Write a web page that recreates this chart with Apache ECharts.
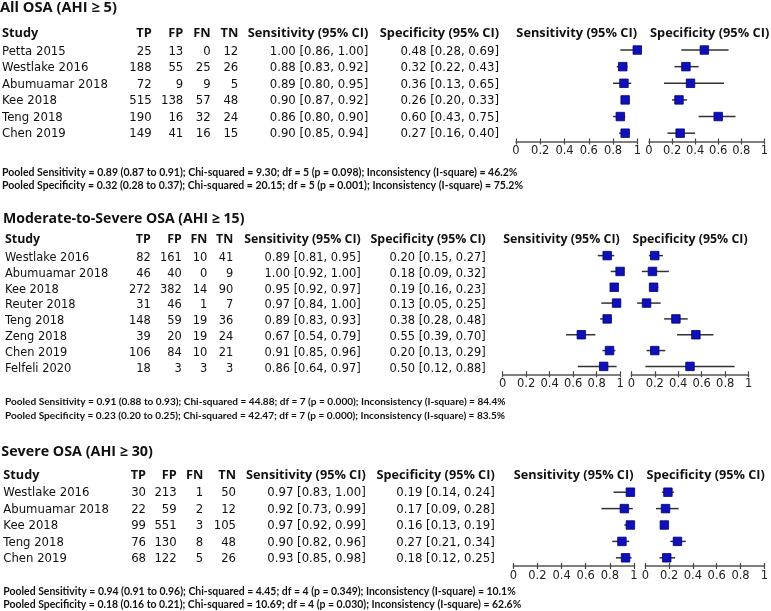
<!DOCTYPE html>
<html>
<head>
<meta charset="utf-8">
<script src="https://cdn.jsdelivr.net/npm/echarts@6/dist/echarts.min.js"></script>
<style>
  html, body { margin: 0; background: #fff; }
  #main { width: 771px; height: 611px; }
</style>
</head>
<body>
<div id="main"></div>
<script>
// ---- data ----
var titles = ['All OSA (AHI \u2265 5)', 'Moderate-to-Severe OSA (AHI \u2265 15)', 'Severe OSA (AHI \u2265 30)'];
var columns = ['Study', 'TP', 'FP', 'FN', 'TN', 'Sensitivity (95% CI)', 'Specificity (95% CI)'];
var ticks = [0, 0.2, 0.4, 0.6, 0.8, 1];

// All OSA
var allStudies = ['Petta 2015', 'Westlake 2016', 'Abumuamar 2018', 'Kee 2018', 'Teng 2018', 'Chen 2019'];
var allTP = [25, 188, 72, 515, 190, 149];
var allFP = [13, 55, 9, 138, 16, 41];
var allFN = [0, 25, 9, 57, 32, 16];
var allTN = [12, 26, 5, 48, 24, 15];
var allSens = [1.00, 0.88, 0.89, 0.90, 0.86, 0.90];
var allSensLo = [0.86, 0.83, 0.80, 0.87, 0.80, 0.85];
var allSensHi = [1.00, 0.92, 0.95, 0.92, 0.90, 0.94];
var allSpec = [0.48, 0.32, 0.36, 0.26, 0.60, 0.27];
var allSpecLo = [0.28, 0.22, 0.13, 0.20, 0.43, 0.16];
var allSpecHi = [0.69, 0.43, 0.65, 0.33, 0.75, 0.40];
var allPooled = [
  'Pooled Sensitivity = 0.89 (0.87 to 0.91); Chi-squared = 9.30; df = 5 (p = 0.098); Inconsistency (I-square) = 46.2%',
  'Pooled Specificity = 0.32 (0.28 to 0.37); Chi-squared = 20.15; df = 5 (p = 0.001); Inconsistency (I-square) = 75.2%'
];

// Moderate-to-severe OSA
var modStudies = ['Westlake 2016', 'Abumuamar 2018', 'Kee 2018', 'Reuter 2018', 'Teng 2018', 'Zeng 2018', 'Chen 2019', 'Felfeli 2020'];
var modTP = [82, 46, 272, 31, 148, 39, 106, 18];
var modFP = [161, 40, 382, 46, 59, 20, 84, 3];
var modFN = [10, 0, 14, 1, 19, 19, 10, 3];
var modTN = [41, 9, 90, 7, 36, 24, 21, 3];
var modSens = [0.89, 1.00, 0.95, 0.97, 0.89, 0.67, 0.91, 0.86];
var modSensLo = [0.81, 0.92, 0.92, 0.84, 0.83, 0.54, 0.85, 0.64];
var modSensHi = [0.95, 1.00, 0.97, 1.00, 0.93, 0.79, 0.96, 0.97];
var modSpec = [0.20, 0.18, 0.19, 0.13, 0.38, 0.55, 0.20, 0.50];
var modSpecLo = [0.15, 0.09, 0.16, 0.05, 0.28, 0.39, 0.13, 0.12];
var modSpecHi = [0.27, 0.32, 0.23, 0.25, 0.48, 0.70, 0.29, 0.88];
var modPooled = [
  'Pooled Sensitivity = 0.91 (0.88 to 0.93); Chi-squared = 44.88; df = 7 (p = 0.000); Inconsistency (I-square) = 84.4%',
  'Pooled Specificity = 0.23 (0.20 to 0.25); Chi-squared = 42.47; df = 7 (p = 0.000); Inconsistency (I-square) = 83.5%'
];

// Severe OSA
var sevStudies = ['Westlake 2016', 'Abumuamar 2018', 'Kee 2018', 'Teng 2018', 'Chen 2019'];
var sevTP = [30, 22, 99, 76, 68];
var sevFP = [213, 59, 551, 130, 122];
var sevFN = [1, 2, 3, 8, 5];
var sevTN = [50, 12, 105, 48, 26];
var sevSens = [0.97, 0.92, 0.97, 0.90, 0.93];
var sevSensLo = [0.83, 0.73, 0.92, 0.82, 0.85];
var sevSensHi = [1.00, 0.99, 0.99, 0.96, 0.98];
var sevSpec = [0.19, 0.17, 0.16, 0.27, 0.18];
var sevSpecLo = [0.14, 0.09, 0.13, 0.21, 0.12];
var sevSpecHi = [0.24, 0.28, 0.19, 0.34, 0.25];
var sevPooled = [
  'Pooled Sensitivity = 0.94 (0.91 to 0.96); Chi-squared = 4.45; df = 4 (p = 0.349); Inconsistency (I-square) = 10.1%',
  'Pooled Specificity = 0.18 (0.16 to 0.21); Chi-squared = 10.69; df = 4 (p = 0.030); Inconsistency (I-square) = 62.6%'
];

var panels = [
  { studies: allStudies, tp: allTP, fp: allFP, fn: allFN, tn: allTN,
    sens: allSens, sensLo: allSensLo, sensHi: allSensHi,
    spec: allSpec, specLo: allSpecLo, specHi: allSpecHi, pooled: allPooled },
  { studies: modStudies, tp: modTP, fp: modFP, fn: modFN, tn: modTN,
    sens: modSens, sensLo: modSensLo, sensHi: modSensHi,
    spec: modSpec, specLo: modSpecLo, specHi: modSpecHi, pooled: modPooled },
  { studies: sevStudies, tp: sevTP, fp: sevFP, fn: sevFN, tn: sevTN,
    sens: sevSens, sensLo: sevSensLo, sensHi: sevSensHi,
    spec: sevSpec, specLo: sevSpecLo, specHi: sevSpecHi, pooled: sevPooled }
];

// ---- layout (pixels) ----
var layout = [
  { x0: 2, titleY: 8, titleW: 117, headY: 33.3, rowY: 51.7, rowStep: 16.5,
    cols: [151.7, 183.3, 210.7, 238.3, 368.3, 499], headW: 120.7, nameW: 106,
    pooledY: [172.7, 185.7], pooledW: 516,
    sensL: 516, specL: 649, axW: 121.3, top: 41.7, bottom: 141.5 },
  { x0: 5, titleY: 218.5, titleW: 241.7, headY: 239.3, rowY: 257.7, rowStep: 15.94,
    cols: [150.7, 181.7, 207.3, 233.3, 360.7, 485.7], headW: 116.7, nameW: 103.3,
    pooledY: [402, 416], pooledW: 501,
    sensL: 502.7, specL: 631.3, axW: 117.4, top: 247.7, bottom: 374.3 },
  { x0: 3.3, titleY: 451.7, titleW: 151.7, headY: 475, rowY: 493.3, rowStep: 16.5,
    cols: [146, 176.7, 203.3, 236, 365.7, 494.7], headW: 119.7, nameW: 105.7,
    pooledY: [591.7, 605], pooledW: 512.7,
    sensL: 513.3, specL: 645.3, axW: 120.7, top: 484, bottom: 566 }
];

var REG = '"DejaVu Sans", sans-serif';
var BOLD = '"Open Sans", "DejaVu Sans", sans-serif';
var POOL = 'Lato, "Open Sans", sans-serif';
var INK = '#111';

var ctx = document.createElement('canvas').getContext('2d');
function fit(text, weight, family, width) {
  ctx.font = weight + ' 100px ' + family;
  return 100 * width / ctx.measureText(text).width;
}
function ci(v, lo, hi) {
  return v.toFixed(2) + ' [' + lo.toFixed(2) + ', ' + hi.toFixed(2) + ']';
}
function txt(x, y, s, size, family, weight, align) {
  return { type: 'text', x: x, y: y, silent: true,
    style: { text: s, fontSize: size, fontFamily: family, fontWeight: weight,
      fill: INK, align: align || 'left', verticalAlign: 'middle' } };
}

var graphics = [], grids = [], xAxes = [], yAxes = [], series = [];

panels.forEach(function (p, k) {
  var L = layout[k];
  var titleSize = fit(titles[k], 'bold', BOLD, L.titleW);
  var headSize = fit(columns[5], 'bold', BOLD, L.headW);
  var bodySize = fit('Abumuamar 2018', 'normal', REG, L.nameW);
  var poolSize = fit(p.pooled[0], 'bold', POOL, L.pooledW);

  graphics.push(txt(L.x0 - 2, L.titleY, titles[k], titleSize, BOLD, 'bold'));
  graphics.push(txt(L.x0, L.headY, columns[0], headSize, BOLD, 'bold'));
  for (var c = 1; c < columns.length; c++) {
    graphics.push(txt(L.cols[c - 1], L.headY, columns[c], headSize, BOLD, 'bold', 'right'));
  }
  p.studies.forEach(function (name, i) {
    var y = L.rowY + i * L.rowStep;
    var cells = [p.tp[i], p.fp[i], p.fn[i], p.tn[i],
      ci(p.sens[i], p.sensLo[i], p.sensHi[i]), ci(p.spec[i], p.specLo[i], p.specHi[i])];
    graphics.push(txt(L.x0, y, name, bodySize, REG, 'normal'));
    cells.forEach(function (v, c) {
      graphics.push(txt(L.cols[c], y, String(v), bodySize, REG, 'normal', 'right'));
    });
  });
  p.pooled.forEach(function (s, j) {
    graphics.push(txt(L.x0, L.pooledY[j], s, poolSize, POOL, 'bold'));
  });

  // two forest plots: sensitivity and specificity
  [[L.sensL, p.sens, p.sensLo, p.sensHi, columns[5]],
   [L.specL, p.spec, p.specLo, p.specHi, columns[6]]].forEach(function (f) {
    var g = grids.length;
    grids.push({ left: f[0], top: L.top, width: L.axW, height: L.bottom - L.top });
    graphics.push(txt(f[0] + L.axW / 2, L.headY, f[4], headSize, BOLD, 'bold', 'center'));
    xAxes.push({
      type: 'value', gridIndex: g, min: ticks[0], max: ticks[ticks.length - 1], interval: 0.2,
      position: 'bottom',
      axisLine: { show: true, lineStyle: { color: '#555', width: 1.5 } },
      axisTick: { show: true, length: 3, lineStyle: { color: '#444', width: 1.2 } },
      axisLabel: { margin: 4, fontSize: 11.5, fontFamily: REG, color: '#222' },
      splitLine: { show: false }
    });
    xAxes.push({
      type: 'value', gridIndex: g, min: ticks[0], max: ticks[ticks.length - 1], interval: 0.2,
      position: 'bottom',
      axisLine: { show: false },
      axisTick: { show: true, inside: true, length: 3, lineStyle: { color: '#444', width: 1.2 } },
      axisLabel: { show: false },
      splitLine: { show: false }
    });
    yAxes.push({ type: 'category', gridIndex: g, data: p.studies, inverse: true, show: false });
    var xi = xAxes.length - 2;
    series.push({
      type: 'custom', xAxisIndex: xi, yAxisIndex: g, clip: false, silent: true, z: 2,
      data: p.studies.map(function (s, i) { return [f[2][i], f[3][i], i]; }),
      encode: { x: [0, 1], y: 2 },
      renderItem: function (params, api) {
        var a = api.coord([api.value(0), api.value(2)]);
        var b = api.coord([api.value(1), api.value(2)]);
        return { type: 'line', shape: { x1: a[0], y1: a[1], x2: b[0], y2: b[1] },
          style: { stroke: '#333', lineWidth: 1.5 } };
      }
    });
    series.push({
      type: 'scatter', xAxisIndex: xi, yAxisIndex: g, silent: true, z: 3,
      symbol: 'rect', symbolSize: 8.5,
      itemStyle: { color: '#1010b8', borderColor: '#00007a', borderWidth: 0.8, opacity: 1 },
      data: f[1].map(function (v, i) { return [v, i]; })
    });
  });
});

var chart = echarts.init(document.getElementById('main'), null, { renderer: 'canvas' });
chart.setOption({
  backgroundColor: '#fff',
  animation: false,
  grid: grids,
  xAxis: xAxes,
  yAxis: yAxes,
  series: series,
  graphic: graphics
});
</script>
</body>
</html>
